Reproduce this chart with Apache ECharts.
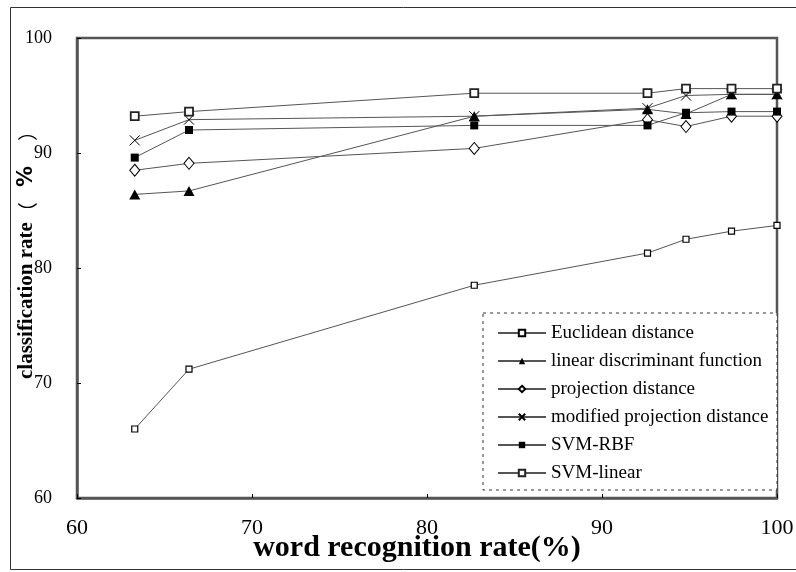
<!DOCTYPE html>
<html>
<head>
<meta charset="utf-8">
<script src="https://cdn.jsdelivr.net/npm/echarts@6/dist/echarts.min.js"></script>
<style>
html,body{margin:0;padding:0;background:#fff;}
#chart{width:796px;height:572px;}
</style>
</head>
<body>
<div id="chart"></div>
<script>
// ---- data ----
const wordRates = [63.3, 66.4, 82.7, 92.6, 94.8, 97.4, 100];
const euclidean = [66.0, 71.2, 78.5, 81.3, 82.5, 83.2, 83.7];
const ldf = [86.4, 86.7, 93.2, 93.8, 93.4, 95.1, 95.1];
const projection = [88.5, 89.1, 90.4, 92.9, 92.3, 93.2, 93.2];
const modifiedProj = [91.1, 92.9, 93.2, 93.9, 95.0, 95.1, 95.1];
const svmRbf = [89.6, 92.0, 92.4, 92.4, 93.5, 93.6, 93.6];
const svmLinear = [93.2, 93.6, 95.2, 95.2, 95.6, 95.6, 95.6];
const seriesNames = ['Euclidean distance', 'linear discriminant function', 'projection distance',
  'modified projection distance', 'SVM-RBF', 'SVM-linear'];
const xTicks = [60, 70, 80, 90, 100];
const yTicks = [60, 70, 80, 90, 100];

const pair = arr => arr.map((v, i) => [wordRates[i], v]);
const serif = 'Liberation Serif, Times New Roman, Noto Sans CJK SC, serif';
const lineCol = '#555';

function mk(name, data, symbol, size, fill, border, bw) {
  return {
    name, type: 'line', data: pair(data), symbol, symbolSize: size,
    lineStyle: { color: lineCol, width: 1 },
    itemStyle: { color: fill, borderColor: border, borderWidth: bw },
    emphasis: { disabled: true }, animation: false
  };
}

const chart = echarts.init(document.getElementById('chart'));
chart.setOption({
  animation: false,
  backgroundColor: '#fff',
  grid: { left: 77, right: 19, top: 38, bottom: 74, show: true, borderColor: '#555', borderWidth: 2.5,
    containLabel: false, outerBoundsMode: 'none' },
  xAxis: {
    type: 'value', min: xTicks[0], max: xTicks[xTicks.length - 1], interval: 10,
    axisLine: { show: true, lineStyle: { color: '#555', width: 2.5 } },
    axisTick: { show: true, inside: true, length: 4, lineStyle: { color: '#000' } },
    splitLine: { show: false },
    axisLabel: { color: '#000', fontFamily: serif, fontSize: 22, margin: 19 },
    name: 'word recognition rate(%)', nameLocation: 'middle', nameGap: 35, nameMoveOverlap: false,
    nameTextStyle: { color: '#000', fontFamily: serif, fontWeight: 'bold', fontSize: 30, padding: [0, 20, 0, 0] }
  },
  yAxis: {
    type: 'value', min: yTicks[0], max: yTicks[yTicks.length - 1], interval: 10,
    axisLine: { show: true, lineStyle: { color: '#555', width: 2.5 } },
    axisTick: { show: true, inside: true, length: 4, lineStyle: { color: '#000' } },
    splitLine: { show: false },
    axisLabel: { color: '#000', fontFamily: serif, fontSize: 18, margin: 25 }
  },
  legend: {
    orient: 'vertical', left: 492, top: 318, itemWidth: 48, itemHeight: 8, itemGap: 8, padding: 5,
    textStyle: { color: '#000', fontFamily: serif, fontSize: 19, lineHeight: 20 },
    data: seriesNames
  },
  graphic: [
    { type: 'rect', left: 8, top: 5, shape: { x: 0, y: 0, width: 786, height: 562 },
      style: { fill: 'none', stroke: '#333', lineWidth: 1 }, silent: true, z: -1 },
    { type: 'rect', shape: { x: 483, y: 313, width: 294, height: 177 },
      style: { fill: '#fff', stroke: '#333', lineWidth: 1, lineDash: [3, 4] }, silent: true, z: 0 },
    { type: 'text', x: 27, y: 250, rotation: Math.PI / 2, silent: true,
      style: {
        text: '{a|classification rate}{p|\uFF08}{b|%}{p|\uFF09}',
        align: 'center', verticalAlign: 'middle',
        rich: {
          a: { fontFamily: serif, fontWeight: 'bold', fontSize: 21, fill: '#000' },
          p: { fontFamily: 'Noto Sans CJK SC, sans-serif', fontSize: 20, fill: '#000' },
          b: { fontFamily: 'DejaVu Sans, sans-serif', fontWeight: 'bold', fontSize: 21, fill: '#000', padding: [0, 25, 0, 15] }
        }
      } }
  ],
  series: [
    mk(seriesNames[0], euclidean, 'rect', 6, '#fff', '#000', 1.2),
    mk(seriesNames[1], ldf, 'triangle', [11, 10], '#000', '#000', 0),
    mk(seriesNames[2], projection, 'diamond', [10, 12], '#fff', '#000', 1),
    mk(seriesNames[3], modifiedProj, 'path://M0,0L10,10M10,0L0,10', 10, 'none', '#000', 1),
    mk(seriesNames[4], svmRbf, 'rect', 8, '#000', '#000', 0),
    mk(seriesNames[5], svmLinear, 'rect', 8, '#fff', '#222', 1.8)
  ]
});
</script>
</body>
</html>
